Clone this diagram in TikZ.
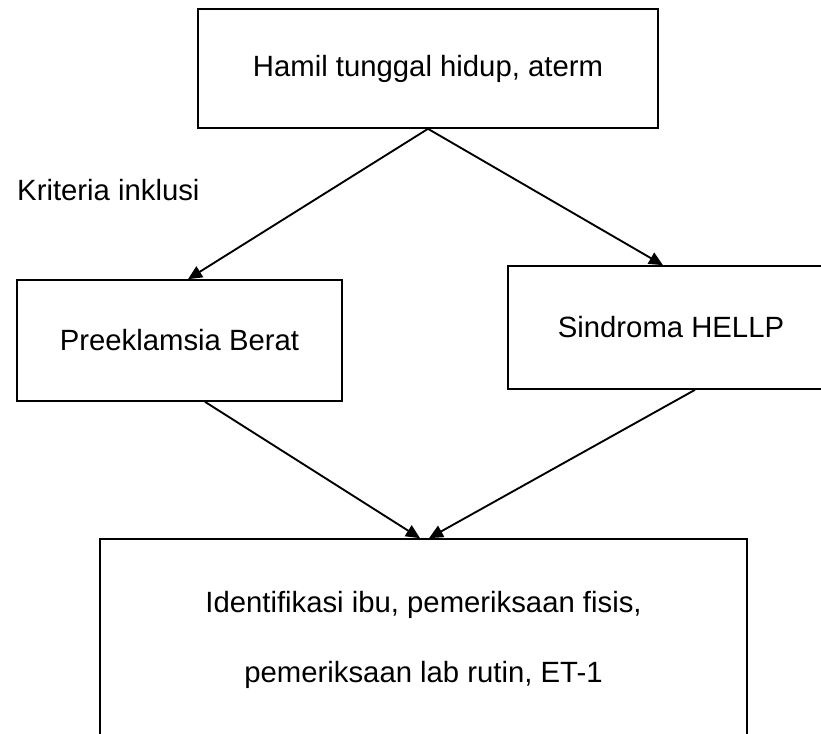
\documentclass[tikz,border=0pt]{standalone}
\usepackage{fontspec}
\setmainfont{Liberation Sans}
\usetikzlibrary{arrows.meta,positioning,calc}

\begin{document}
\begin{tikzpicture}[
    x=0.03cm, y=-0.03cm,
    box/.style={rectangle, draw=black, line width=1.4pt, font=\fontsize{25}{30}\selectfont, align=center},
    flow/.style={-{Triangle[length=4.2mm, width=3.8mm]}, line width=1.6pt},
]
    \useasboundingbox (0,0) rectangle (821,733);
    \node[box, minimum width=13.8cm, minimum height=3.57cm] (hamil) at (428,68.5) {Hamil tunggal hidup, aterm};
    \node[anchor=west, inner sep=0pt, font=\fontsize{25}{30}\selectfont] (kriteria) at (17,190) {Kriteria inklusi};
    \node[box, minimum width=9.75cm, minimum height=3.63cm] (pre) at (179.5,340.5) {Preeklamsia Berat};
    \node[box, minimum width=9.78cm, minimum height=3.69cm] (hellp) at (671,327.5) {Sindroma HELLP};
    \node[box, minimum width=19.41cm, minimum height=6.06cm, font=\fontsize{25}{59.5}\selectfont] (ident) at (423.5,640) {Identifikasi ibu, pemeriksaan fisis,\\pemeriksaan lab rutin, ET-1};

    \draw[flow] (hamil.south) -- (pre.north -| 188,0);
    \draw[flow] (hamil.south) -- (hellp.north -| 663,0);
    \draw[flow] (pre.south -| 205,0) -- (ident.north -| 420,0);
    \draw[flow] (hellp.south -| 695,0) -- (ident.north -| 429,0);
\end{tikzpicture}
\end{document}
